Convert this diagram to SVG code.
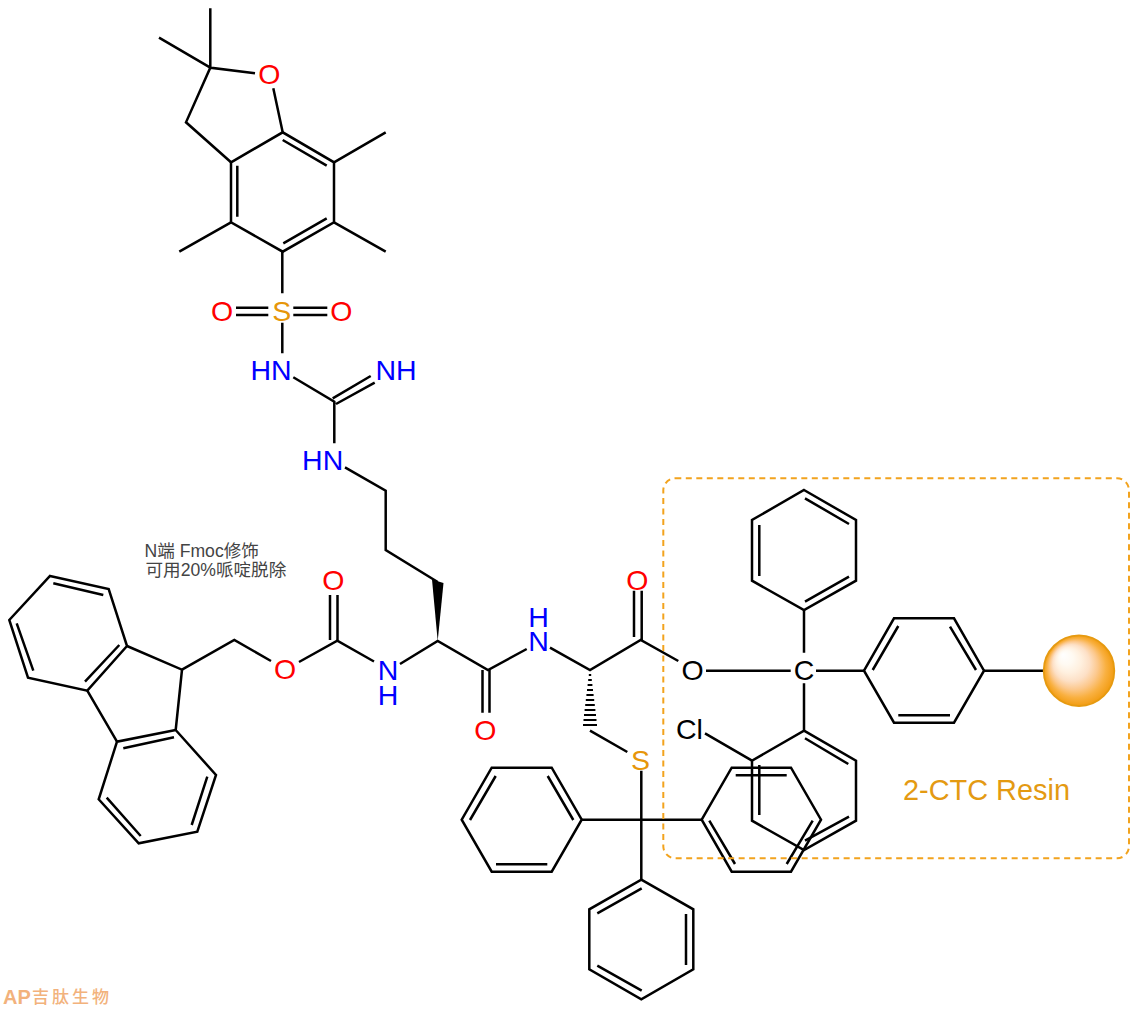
<svg xmlns="http://www.w3.org/2000/svg" width="1140" height="1009" viewBox="0 0 1140 1009">
<style>
.b{fill:none;stroke:#000;stroke-width:2.5;stroke-linejoin:miter}
.a{font-family:"Liberation Sans",Arial,sans-serif;font-size:28.5px;text-anchor:middle}
.o{fill:#f00}.n{fill:#00f}.s{fill:#e6960a}.k{fill:#000}
.note{font-family:"Liberation Sans","Noto Sans CJK SC",sans-serif;font-size:17.6px;fill:#444}
.wm{fill:#f2b27c}
</style>
<defs>
<radialGradient id="bead" cx="0.5" cy="0.5" r="0.5" fx="0.27" fy="0.27">
<stop offset="0" stop-color="#fff"/>
<stop offset="0.2" stop-color="#fffaf2"/>
<stop offset="0.36" stop-color="#fff0df"/>
<stop offset="0.52" stop-color="#fde0c6"/>
<stop offset="0.68" stop-color="#fcc88c"/>
<stop offset="0.84" stop-color="#f9b040"/>
<stop offset="1" stop-color="#f29c12"/>
</radialGradient>
</defs>
<rect width="1140" height="1009" fill="#fff"/>

<g id="connectors" class="b">
<!-- Pbf -->
<polygon points="231,162.3 282.7,132.3 334,162.3 334,222.3 282.7,251.7 231,222.3"/>
<path d="M282.7 140L326.7 165.7M237.3 165.7V216.7M326.7 218.3L283.3 243.3"/>
<path d="M334 162.3L385.7 132.3M334 222.3L385.7 251.7M231 222.3L179.3 251.7"/>
<path d="M231 162.3L186 122.3L210.3 67.7L255 73.3M273.3 88.3L282.7 132.3M210.3 67.7V8.3M210.3 67.7L159 37.7"/>
<!-- sulfonyl and guanidine -->
<path d="M282.3 251.7V293.3M282.3 322.7V353.3"/>
<path d="M236 307.7H268.3M236 315H268.3M293.3 307.7H327.3M293.3 315H327.3"/>
<path d="M293.3 377.3L334.3 401.7V443.3M370.7 376L332.7 398.3M374.7 382.7L336 404"/>
<path d="M345 467.3L385.7 490.7V550L437.7 582"/>
<!-- Fmoc -->
<polygon points="50,576 108.7,589 127,646 87.3,690.7 28,677.7 9.3,620"/>
<path d="M53.3 583.3L103.3 595M16.7 623.3L33.3 670.7M119.3 645L85 681.7"/>
<path d="M127 646L182 669.7L175.7 730M87.3 690.7L117 741.7"/>
<polygon points="175.7,730 117,741.7 98.7,799.3 138.7,843.3 197.3,831.7 216,775"/>
<path d="M123.3 748.3L174 737.3M106.7 797.7L140.7 836M191.7 825L207.3 776.7"/>
<path d="M182 669.7L234.3 640L271 661M299 662L337.3 640.7L374 661.5M400 664L437.7 641L488 670L526.7 649M550 647.7L590 670L640.7 640L678.3 661"/>
<path d="M330 595V640M337.5 595V640"/>
<path d="M482.5 670V712.7M489.5 670V712.7"/>
<path d="M634 590.7V637M641.7 590.7V640"/>
<!-- side chains -->
<polygon points="437.7,641 432,579.5 443.5,583" fill="#000" stroke="none"/>
<path d="M590 730.7L627.3 752M641.3 770.7V819.7"/>
<g stroke-width="1.8">
<path d="M588.8 675H591.2M588.2 680H591.8M587.6 685H592.4M587 690H593M586.4 695H593.6M585.8 700H594.2M585.2 705H594.8M584.6 710H595.4M584 715H596M583.5 720H596.5M583 725H597"/>
</g>
<!-- Trt -->
<polygon points="581.7,819.7 551.7,767.7 491.7,767.7 461.7,819.7 491.7,871.7 551.7,871.7"/>
<path d="M547.7 776L573.3 820M495.7 776L470 820M496 864.3H547.3"/>
<polygon points="701.7,819.7 731.7,767.7 791,767.7 821,819.7 791,871.7 731.7,871.7"/>
<path d="M735.7 775.3H786.7M709.3 820.7L735 864M812.7 820.7L786.7 864"/>
<polygon points="641.3,879.7 693.3,909.3 693.3,969.3 641.3,999.3 589.3,969.3 589.3,909.3"/>
<path d="M641.7 888.3L597.3 913.3M686 914V965M641.7 990.7L597.3 965.7"/>
<path d="M581.7 819.7H701.7M641.3 819.7V879.7"/>
<!-- resin -->
<polygon points="804,490 856,520 856,580.7 804,610 752,580.7 752,520"/>
<path d="M805 498.3L849 524M759.3 525V576M805 601.7L849 576.7"/>
<path d="M804 610V652.7M706 670.7H790.7M816 670.7H864M804 683.3V730.7"/>
<polygon points="864,670.7 894,618.3 954,618.3 984,670.7 954,722.7 894,722.7"/>
<path d="M872.7 670L898.3 626M950 626.7L976 670M898.3 715.3H950M984 670.7H1043"/>
<polygon points="804,730.7 856,760.7 856,820.7 804,850 752,820.7 752,760.7"/>
<path d="M805 738.3L848.3 764M759.3 765V815M805 840.7L849 816.7M705 733.3L752 760.7"/>
</g>

<g id="resin-box"><rect x="663.3" y="478.3" width="465.7" height="380" rx="12" ry="12" fill="none" stroke="#f2a31e" stroke-width="2" stroke-dasharray="6 4.5"/></g>
<g id="bead-node"><circle cx="1079" cy="670.7" r="35.3" fill="url(#bead)" stroke="#e69a10" stroke-width="1.8"/></g>
<g id="resin-label"><text x="903" y="800" style="font-family:'Liberation Sans',Arial,sans-serif;font-size:28.9px" fill="#e49a12">2-CTC Resin</text></g>

<g id="note"><text class="note" x="144.5" y="556.5">N端 Fmoc修饰</text><text class="note" x="145.5" y="575.5">可用20%哌啶脱除</text></g>

<g id="atom-o1"><text class="a o" x="269.3" y="83.5">O</text></g>
<g id="atom-o2"><text class="a o" x="222" y="321">O</text></g>
<g id="atom-s1"><text class="a s" x="281.7" y="321">S</text></g>
<g id="atom-o3"><text class="a o" x="341.3" y="321">O</text></g>
<g id="atom-n1"><text class="a n" x="271" y="380">HN</text></g>
<g id="atom-n2"><text class="a n" x="396" y="380">NH</text></g>
<g id="atom-n3"><text class="a n" x="322.7" y="470">HN</text></g>
<g id="atom-o4"><text class="a o" x="285" y="679">O</text></g>
<g id="atom-o5"><text class="a o" x="333.3" y="590">O</text></g>
<g id="atom-n4"><text class="a n"><tspan x="388" y="680">N</tspan><tspan x="388" y="704.5">H</tspan></text></g>
<g id="atom-o6"><text class="a o" x="485.3" y="740">O</text></g>
<g id="atom-n5"><text class="a n"><tspan x="538.5" y="626.5">H</tspan><tspan x="538.5" y="650.7">N</tspan></text></g>
<g id="atom-o7"><text class="a o" x="637.3" y="590">O</text></g>
<g id="atom-o8"><text class="a k" x="692.7" y="680">O</text></g>
<g id="atom-c"><text class="a k" x="804" y="680">C</text></g>
<g id="atom-cl"><text class="a k" x="689.5" y="739.3">Cl</text></g>
<g id="atom-s2"><text class="a s" x="640.5" y="770">S</text></g>

<g id="watermark">
<text class="wm" x="3" y="1004" style="font-family:'Liberation Sans',Arial,sans-serif;font-size:20px;font-weight:bold">AP</text>
<text class="wm" x="32" y="1003" style="font-family:'Noto Sans CJK SC',sans-serif;font-size:17px;font-weight:500;letter-spacing:3px">吉肽生物</text>
</g>
</svg>
